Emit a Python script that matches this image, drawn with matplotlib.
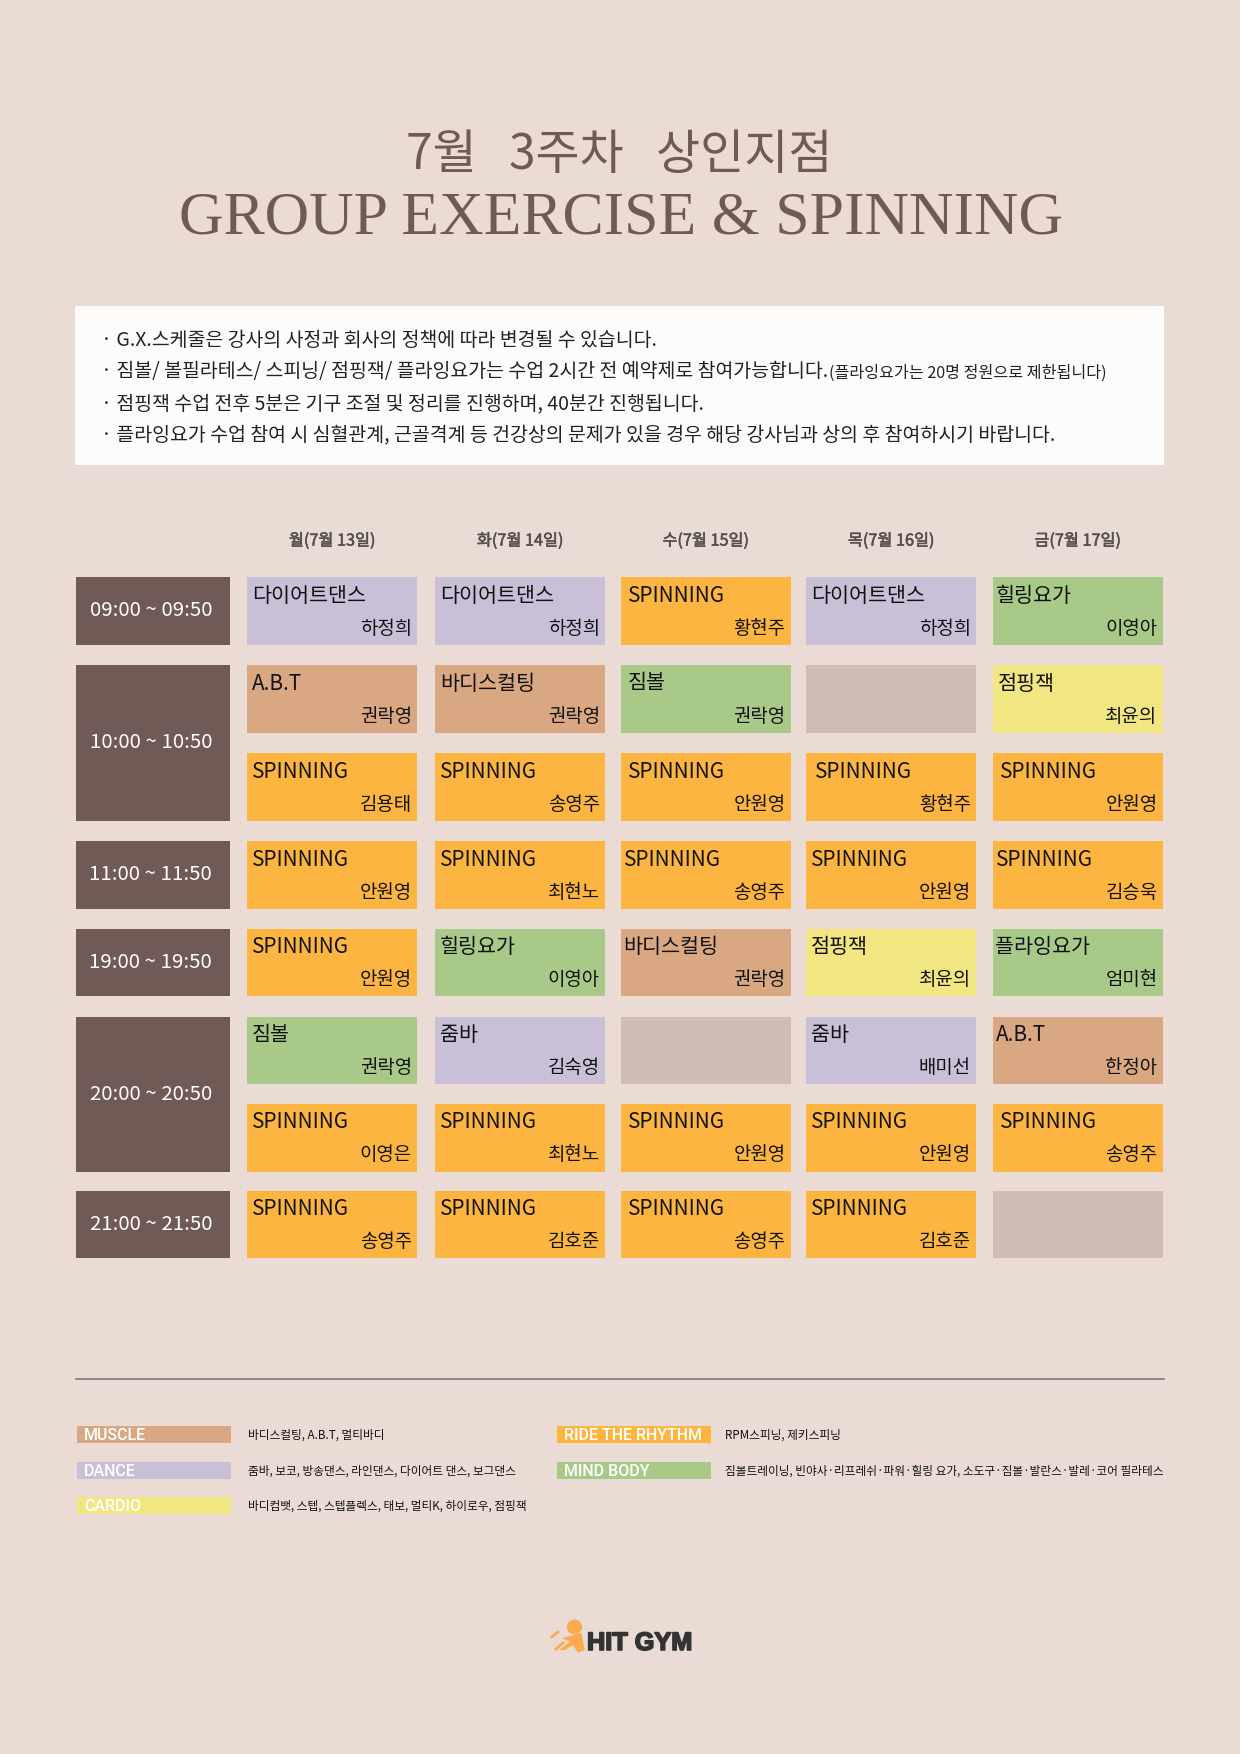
import matplotlib
matplotlib.use("Agg")
import matplotlib.pyplot as plt
import matplotlib.patheffects as pe
from matplotlib.patches import Rectangle, Circle, Polygon

KR = "Noto Sans CJK KR"
SERIF = "Liberation Serif"

TITLE_KR = "7월   3주차   상인지점"
TITLE_EN = "GROUP EXERCISE & SPINNING"
NOTES = [
    "· G.X.스케줄은 강사의 사정과 회사의 정책에 따라 변경될 수 있습니다.",
    "· 짐볼/ 볼필라테스/ 스피닝/ 점핑잭/ 플라잉요가는 수업 2시간 전 예약제로 참여가능합니다.",
    "· 점핑잭 수업 전후 5분은 기구 조절 및 정리를 진행하며, 40분간 진행됩니다.",
    "· 플라잉요가 수업 참여 시 심혈관계, 근골격계 등 건강상의 문제가 있을 경우 해당 강사님과 상의 후 참여하시기 바랍니다.",
]
NOTE_SMALL = "(플라잉요가는 20명 정원으로 제한됩니다)"

DAYS = ["월(7월 13일)", "화(7월 14일)", "수(7월 15일)", "목(7월 16일)", "금(7월 17일)"]
TIMES = ["09:00 ~ 09:50", "10:00 ~ 10:50", "11:00 ~ 11:50", "19:00 ~ 19:50", "20:00 ~ 20:50", "21:00 ~ 21:50"]
TIME_ROWS = [(0, 0), (1, 2), (3, 3), (4, 4), (5, 6), (7, 7)]

CLASSES = [
    ["다이어트댄스", "다이어트댄스", "SPINNING", "다이어트댄스", "힐링요가"],
    ["A.B.T", "바디스컬팅", "짐볼", "", "점핑잭"],
    ["SPINNING", "SPINNING", "SPINNING", "SPINNING", "SPINNING"],
    ["SPINNING", "SPINNING", "SPINNING", "SPINNING", "SPINNING"],
    ["SPINNING", "힐링요가", "바디스컬팅", "점핑잭", "플라잉요가"],
    ["짐볼", "줌바", "", "줌바", "A.B.T"],
    ["SPINNING", "SPINNING", "SPINNING", "SPINNING", "SPINNING"],
    ["SPINNING", "SPINNING", "SPINNING", "SPINNING", ""],
]
TEACHERS = [
    ["하정희", "하정희", "황현주", "하정희", "이영아"],
    ["권락영", "권락영", "권락영", "", "최윤의"],
    ["김용태", "송영주", "안원영", "황현주", "안원영"],
    ["안원영", "최현노", "송영주", "안원영", "김승욱"],
    ["안원영", "이영아", "권락영", "최윤의", "엄미현"],
    ["권락영", "김숙영", "", "배미선", "한정아"],
    ["이영은", "최현노", "안원영", "안원영", "송영주"],
    ["송영주", "김호준", "송영주", "김호준", ""],
]
GENRES = {
    "다이어트댄스": "DANCE", "줌바": "DANCE",
    "A.B.T": "MUSCLE", "바디스컬팅": "MUSCLE",
    "SPINNING": "RIDE", "짐볼": "MIND", "힐링요가": "MIND", "플라잉요가": "MIND",
    "점핑잭": "CARDIO", "": "EMPTY",
}
LEGEND_LEFT = [("MUSCLE", "바디스컬팅, A.B.T, 멀티바디", "MUSCLE"),
               ("DANCE", "줌바, 보코, 방송댄스, 라인댄스, 다이어트 댄스, 보그댄스", "DANCE"),
               ("CARDIO", "바디컴뱃, 스텝, 스텝플렉스, 태보, 멀티K, 하이로우, 점핑잭", "CARDIO")]
LEGEND_RIGHT = [("RIDE THE RHYTHM", "RPM스피닝, 제키스피닝", "RIDE"),
                ("MIND BODY", "짐볼트레이닝, 빈야사·리프레쉬·파워·힐링 요가, 소도구·짐볼·발란스·발레·코어 필라테스", "MIND")]

# ---- styles and layout
COL = {"DANCE": "#c9c0d8", "MUSCLE": "#d9a883", "RIDE": "#fbb540", "MIND": "#a9c989",
       "CARDIO": "#f2e683", "EMPTY": "#cfbdb5"}
BG, BROWN, WHITE = "#eadcd5", "#705a56", "#fdfcfa"
COL_L = [247, 435, 620.5, 806, 992.5]
COL_W = 170
ROW_T = [577, 665, 753, 841, 928.5, 1016.5, 1104, 1190.5]
ROW_H = 67.5
TIME_L, TIME_W = 76, 153.5
TITLE_DX = [[5, 5, 7, 5, 3], [5, 5, 7, 0, 5], [5, 5, 7, 9, 7], [5, 5, 3, 5, 3],
            [5, 5, 3, 5, 3], [5, 5, 0, 5, 3], [5, 5, 7, 5, 7], [5, 5, 7, 5, 0]]

fig = plt.figure(figsize=(12.4, 17.54), dpi=100, facecolor=BG)
ax = fig.add_axes([0, 0, 1, 1])
ax.set_xlim(0, 1240)
ax.set_ylim(1754, 0)
ax.axis("off")

ax.text(619, 155, TITLE_KR, family=KR, size=34.5, color=BROWN, ha="center", va="center", weight="light")
ax.text(621, 219, TITLE_EN, family=SERIF, size=44.5, color=BROWN, ha="center", va="center")

ax.add_patch(Rectangle((75, 306), 1089, 159, fc=WHITE, ec="none"))
for i, (line, y) in enumerate(zip(NOTES, [340, 372, 404, 436])):
    t = ax.text(101, y, line, family=KR, size=14.0, color="#222222", ha="left", va="center")
    if i == 1:
        fig.canvas.draw()
        bb = t.get_window_extent()
        ax.text(bb.x1 + 1, y + 1, NOTE_SMALL, family=KR, size=11.6, color="#222222", ha="left", va="center")

for x, d in zip(COL_L, DAYS):
    ax.text(x + COL_W / 2, 541, d, family=KR, size=11.7, color="#55504e", ha="center", va="center",
            path_effects=[pe.withStroke(linewidth=0.4, foreground="#55504e")])

for t, (a, b) in zip(TIMES, TIME_ROWS):
    top, bot = ROW_T[a], ROW_T[b] + ROW_H
    ax.bar(TIME_L, bot - top, TIME_W, top, align="edge", color=BROWN)
    ax.text(TIME_L + TIME_W / 2 - 2, (top + bot) / 2, t, family=KR, size=14.7, color="white", ha="center", va="center")

for r, y in enumerate(ROW_T):
    for c, x in enumerate(COL_L):
        name = CLASSES[r][c]
        ax.bar(x, ROW_H, COL_W, y, align="edge", color=COL[GENRES[name]])
        if name:
            ax.text(x + TITLE_DX[r][c], y + 18.5, name, family=KR, size=14.9, color="#111111", ha="left", va="center")
            ax.text(x + COL_W - 5, y + 51, TEACHERS[r][c], family=KR, size=13.6, color="#111111", ha="right", va="center")

ax.plot([76, 1164], [1379, 1379], color="#8a7f7a", lw=1.3)

for rows, lx, tx, ys in [(LEGEND_LEFT, 77, 248, [1426, 1462, 1497]), (LEGEND_RIGHT, 557, 725, [1426, 1462])]:
    for (label, desc, g), y in zip(rows, ys):
        ax.bar(lx, 17, 154, y, align="edge", color=COL[g])
        ax.text(lx + 7, y + 9.5, label, family="Roboto", size=11.5, color="white", ha="left", va="center", weight="medium")
        ax.text(tx, y + 9.5, desc, family=KR, size=8.45, color="#111111", ha="left", va="center")

# logo
LOGO = "#f9ab4e"
ax.add_patch(Circle((574.5, 1627), 7.5, fc=LOGO, ec="none"))
ax.add_patch(Polygon([[561.7, 1638], [581.7, 1633], [582.7, 1640], [585, 1650], [578, 1652.7], [572.7, 1645],
                      [565, 1650], [559, 1650], [570, 1641.7]], fc=LOGO, ec="none"))
ax.plot([551.7, 558], [1637, 1632], color=LOGO, lw=2)
ax.plot([556, 563], [1649, 1643], color=LOGO, lw=2)
ax.text(587, 1643, "HIT GYM", family="Liberation Sans", weight="bold", size=18.2, color="#333333", ha="left", va="center",
        path_effects=[pe.withStroke(linewidth=1.2, foreground="#333333")])

fig.savefig("out.png", dpi=100, facecolor=BG)
